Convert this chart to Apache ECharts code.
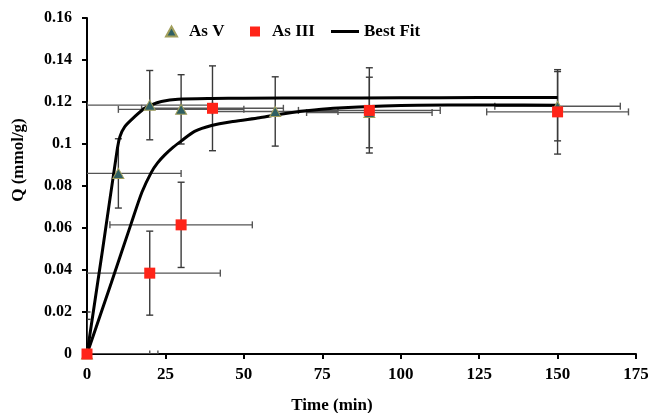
<!DOCTYPE html>
<html>
<head>
<meta charset="utf-8">
<script src="https://cdn.jsdelivr.net/npm/echarts@6/dist/echarts.min.js"></script>
<style>html,body{margin:0;padding:0;background:#fff;}#c{width:648px;height:413px;}</style>
</head>
<body>
<div id="c"></div>
<script>
// ---- data ----
const timeV  = [0, 10, 20, 30, 60, 90, 150];
const qV     = [0, 0.086, 0.1185, 0.1165, 0.1155, 0.115, 0.118];
const qVErr  = [0.0165, 0.0165, 0.0165, 0.0165, 0.0165, 0.0168, 0.0165];
const tVErr  = [20, 20, 20, 20, 20, 20, 20];

const timeIII = [0, 20, 30, 40, 90, 150];
const qIII    = [0, 0.0385, 0.0615, 0.117, 0.116, 0.1153];
const qIIIErr = [0.02, 0.02, 0.0203, 0.0202, 0.0203, 0.0201];
const tIIIErr = [22.6, 22.5, 22.7, 22.6, 22.6, 22.6];

const fitVx = [0, 5, 9.6, 10.5, 12, 15.2, 18.4, 20.5, 23.7, 29, 40, 50, 75, 100, 125, 150];
const fitVy = [0, 0.05, 0.097, 0.1035, 0.1082, 0.113, 0.117, 0.1186, 0.1202, 0.1213, 0.1217, 0.1218, 0.1219, 0.122, 0.1221, 0.1222];

const fitIIIx = [0, 7.7, 14.1, 17.5, 20.5, 22.5, 24.8, 27.5, 30.1, 34.3, 39.7, 46.6, 55, 60, 70, 78.5, 94.5, 115, 130, 150];
const fitIIIy = [0, 0.0337, 0.0622, 0.077, 0.0865, 0.091, 0.0948, 0.0985, 0.1015, 0.106, 0.1088, 0.1107, 0.1125, 0.1138, 0.1158, 0.117, 0.1181, 0.1186, 0.1186, 0.1184];

const xTicks = {min: 0, max: 175, interval: 25};
const yTicks = {min: 0, max: 0.16, interval: 0.02};

const FONT = '"Liberation Serif", "Times New Roman", serif';

function zip(a, b) { return a.map((v, i) => [v, b[i]]); }
function errData(t, q, te, qe) { return t.map((v, i) => [v, q[i], te[i], qe[i]]); }

function errRender(colorV, colorH) {
  return function (params, api) {
    const x = api.value(0), y = api.value(1), dx = api.value(2), dy = api.value(3);
    const c = api.coord([x, y]);
    const top = api.coord([x, y + dy]);
    const bot = api.coord([x, y - dy]);
    const lft = api.coord([x - dx, y]);
    const rgt = api.coord([x + dx, y]);
    const cap = 3.5;
    const sV = {stroke: colorV, lineWidth: 1.4};
    const sH = {stroke: colorH, lineWidth: 1.4};
    return {
      type: 'group',
      children: [
        {type: 'line', shape: {x1: lft[0], y1: c[1], x2: rgt[0], y2: c[1]}, style: sH},
        {type: 'line', shape: {x1: lft[0], y1: c[1] - cap, x2: lft[0], y2: c[1] + cap}, style: sH},
        {type: 'line', shape: {x1: rgt[0], y1: c[1] - cap, x2: rgt[0], y2: c[1] + cap}, style: sH},
        {type: 'line', shape: {x1: c[0], y1: top[1], x2: c[0], y2: bot[1]}, style: sV},
        {type: 'line', shape: {x1: c[0] - cap, y1: top[1], x2: c[0] + cap, y2: top[1]}, style: sV},
        {type: 'line', shape: {x1: c[0] - cap, y1: bot[1], x2: c[0] + cap, y2: bot[1]}, style: sV}
      ]
    };
  };
}

const legendText = {fontFamily: FONT, fontWeight: 'bold', fontSize: 17, color: '#000'};

const chart = echarts.init(document.getElementById('c'), null, {renderer: 'canvas'});
chart.setOption({
  animation: false,
  backgroundColor: '#fff',
  grid: {left: 87, right: 12, top: 18, bottom: 59, containLabel: false, outerBoundsMode: 'none'},
  legend: [
    {data: ['As V'], left: 165, top: 23, padding: 0, itemWidth: 11, itemHeight: 10,
     textStyle: Object.assign({padding: [0, 0, 0, 7]}, legendText)},
    {data: ['As III'], left: 250, top: 23, padding: 0, itemWidth: 10, itemHeight: 10,
     textStyle: Object.assign({padding: [0, 0, 0, 7]}, legendText)},
    {data: [{name: 'Best Fit', icon: 'rect'}], left: 331, top: 23, padding: 0, itemWidth: 28, itemHeight: 3,
     itemStyle: {color: '#000'}, textStyle: Object.assign({}, legendText)}
  ],
  xAxis: {
    type: 'value', min: xTicks.min, max: xTicks.max, interval: xTicks.interval,
    name: 'Time (min)', nameLocation: 'middle', nameGap: 43,
    nameTextStyle: {fontFamily: FONT, fontWeight: 'bold', fontSize: 17, color: '#000', padding: [0, 59, 0, 0]},
    axisLine: {lineStyle: {color: '#000', width: 2}},
    axisTick: {length: 5, lineStyle: {color: '#000', width: 2}},
    axisLabel: {fontFamily: FONT, fontWeight: 'bold', fontSize: 17, color: '#000', margin: 12},
    splitLine: {show: false}
  },
  yAxis: {
    type: 'value', min: yTicks.min, max: yTicks.max, interval: yTicks.interval,
    name: 'Q (mmol/g)', nameLocation: 'middle', nameGap: 60, nameRotate: 90,
    nameTextStyle: {fontFamily: FONT, fontWeight: 'bold', fontSize: 17, color: '#000', padding: [0, 0, 0, 52]},
    axisLine: {lineStyle: {color: '#000', width: 2}},
    axisTick: {length: 5, lineStyle: {color: '#000', width: 2}},
    axisLabel: {fontFamily: FONT, fontWeight: 'bold', fontSize: 16, color: '#000', margin: 15},
    splitLine: {show: false}
  },
  series: [
    {
      type: 'custom', name: 'errV', clip: true, z: 1, silent: true,
      renderItem: errRender('#3a3a3a', '#555'),
      encode: {x: 0, y: 1},
      data: errData(timeV, qV, tVErr, qVErr)
    },
    {
      type: 'custom', name: 'errIII', clip: true, z: 1, silent: true,
      renderItem: errRender('#3a3a3a', '#555'),
      encode: {x: 0, y: 1},
      data: errData(timeIII, qIII, tIIIErr, qIIIErr)
    },
    {
      type: 'line', name: 'Best Fit', data: zip(fitVx, fitVy), smooth: 0.25,
      symbol: 'none', showSymbol: false, z: 3,
      lineStyle: {color: '#000', width: 3}, itemStyle: {color: '#000'}
    },
    {
      type: 'line', name: 'Best Fit', data: zip(fitIIIx, fitIIIy), smooth: 0.25,
      symbol: 'none', showSymbol: false, z: 3,
      lineStyle: {color: '#000', width: 3}, itemStyle: {color: '#000'}
    },
    {
      type: 'scatter', name: 'As V', data: zip(timeV, qV), symbol: 'triangle', symbolSize: [11, 10], z: 4,
      itemStyle: {color: '#2F5F63', borderColor: '#A29F5C', borderWidth: 1, opacity: 1}
    },
    {
      type: 'scatter', name: 'As III', data: zip(timeIII, qIII), symbol: 'rect', symbolSize: 11, z: 5,
      itemStyle: {color: '#FF2418', opacity: 1}
    }
  ]
});
</script>
</body>
</html>
